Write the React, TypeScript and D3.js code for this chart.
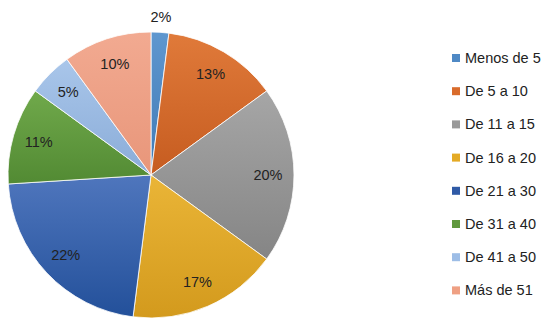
import React from "react";
import * as d3 from "d3";

const categories = ["Menos de 5", "De 5 a 10", "De 11 a 15", "De 16 a 20", "De 21 a 30", "De 31 a 40", "De 41 a 50", "Más de 51"];
const values = [2, 13, 20, 17, 22, 11, 5, 10];
const labels = ["2%", "13%", "20%", "17%", "22%", "11%", "5%", "10%"];
const colorsTop = ["#5f97cf", "#e07a3a", "#a6a6a6", "#eab537", "#4f76bd", "#70a94b", "#a9c6ea", "#f2aa91"];
const colorsBottom = ["#3f7ab5", "#c65c20", "#858585", "#d39a1d", "#23509a", "#528a33", "#8aacd8", "#e8967a"];
const legendColors = ["#4f89c5", "#d96b2b", "#999999", "#e4aa25", "#2f5aa6", "#60993e", "#9dbde6", "#efa083"];

export default function App() {
  const W = 557, H = 331;
  const cx = 151, cy = 175, r = 143;
  const pie = d3.pie<number>().sort(null).value((d) => d)(values);
  const arc = d3.arc<d3.PieArcDatum<number>>().innerRadius(0).outerRadius(r);
  const labelArc = d3.arc<d3.PieArcDatum<number>>().innerRadius(117).outerRadius(117);
  const outArc = d3.arc<d3.PieArcDatum<number>>().innerRadius(158).outerRadius(158);
  const font = "'Liberation Sans', 'Open Sans', sans-serif";
  return (
    <svg width={W} height={H} style={{ position: "absolute", left: 0, top: 0, background: "#fff" }}>
      <defs>
        {values.map((_, i) => (
          <linearGradient key={i} id={`g${i}`} x1="0" y1="0" x2="0" y2="1">
            <stop offset="0" stopColor={colorsTop[i]} />
            <stop offset="1" stopColor={colorsBottom[i]} />
          </linearGradient>
        ))}
      </defs>
      <g transform={`translate(${cx},${cy})`}>
        {pie.map((d, i) => (
          <path key={i} d={arc(d) || ""} fill={`url(#g${i})`} stroke="#fff" strokeWidth={0.8} />
        ))}
        {pie.map((d, i) => {
          const [x, y] = i === 0 ? outArc.centroid(d) : labelArc.centroid(d);
          return (
            <text key={i} x={x} y={y} textAnchor="middle" dominantBaseline="central" fontFamily={font} fontSize={14.5} fill="#222">
              {labels[i]}
            </text>
          );
        })}
      </g>
      {categories.map((c, i) => {
        const y = 58 + i * 33.2;
        return (
          <g key={i}>
            <rect x={452} y={y - 4} width={8} height={8} fill={legendColors[i]} />
            <text x={465} y={y} dominantBaseline="central" fontFamily={font} fontSize={14.5} fill="#222">
              {c}
            </text>
          </g>
        );
      })}
    </svg>
  );
}
